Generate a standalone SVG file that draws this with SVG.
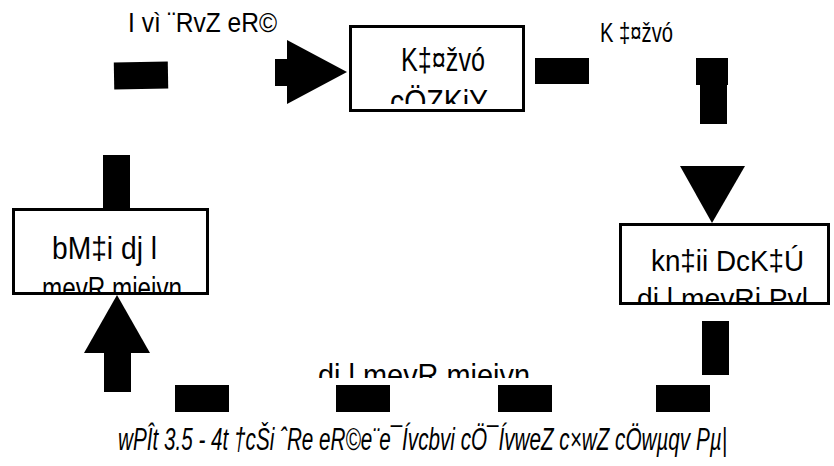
<svg xmlns="http://www.w3.org/2000/svg" width="834" height="466" viewBox="0 0 834 466">
<style>
.box{fill:#fff;stroke:#000;stroke-width:3}
.t{font-family:"Liberation Sans Narrow","Liberation Sans",sans-serif;fill:#000;text-anchor:start}
.cap{font-family:"Liberation Sans Narrow","Liberation Sans",sans-serif;font-style:italic;fill:#000}
.c{fill:#000;stroke:none}
</style>
<defs>
<clipPath id="clipTop"><rect x="352" y="28" width="170" height="76"/></clipPath>
<clipPath id="clipLeft"><rect x="15" y="211" width="191" height="81"/></clipPath>
<clipPath id="clipRight"><rect x="622" y="226" width="206" height="76"/></clipPath>
<clipPath id="clipBottom"><rect x="300" y="340" width="250" height="38"/></clipPath>
</defs>
<rect width="834" height="466" fill="#fff"/>
<g id="connectors">
<rect class="c" x="114" y="62" width="54" height="27" transform="rotate(-1 141 75)"/>
<rect class="c" x="275" y="59" width="14" height="27"/>
<polygon class="c" points="287,40 347,72 287,104"/>
<rect class="c" x="103" y="155" width="27" height="54"/>
<rect class="c" x="535" y="58" width="54" height="26"/>
<rect class="c" x="696" y="58" width="32" height="27"/>
<rect class="c" x="700" y="84" width="27" height="40"/>
<polygon class="c" points="680,166 745,166 712,223"/>
<rect class="c" x="702" y="321" width="27" height="54"/>
<rect class="c" x="656" y="385" width="54" height="27"/>
<rect class="c" x="498" y="385" width="54" height="27"/>
<rect class="c" x="336" y="385" width="54" height="27"/>
<rect class="c" x="175" y="385" width="54" height="27"/>
<rect class="c" x="104" y="352" width="27" height="40"/>
<polygon class="c" points="84,353 150,353 117,295"/>
</g>
<g id="label-food">
<text class="t" x="128" y="32" font-size="27" textLength="149" lengthAdjust="spacingAndGlyphs">I vì ¨RvZ eR©</text>
</g>
<g id="label-compost">
<text class="t" x="600" y="42" font-size="27" textLength="73" lengthAdjust="spacingAndGlyphs">K ‡¤žvó</text>
</g>
<g id="label-supply">
<g clip-path="url(#clipBottom)">
<text class="t" x="318" y="386" font-size="32" textLength="212" lengthAdjust="spacingAndGlyphs">di l mevR mieivn</text>
</g>
</g>
<g id="node-compost">
<rect class="box" x="350.5" y="26.5" width="173" height="84"/>
<g clip-path="url(#clipTop)">
<text class="t" x="401" y="71" font-size="33" textLength="84" lengthAdjust="spacingAndGlyphs">K‡¤žvó</text>
<text class="t" x="390" y="113" font-size="33" textLength="98" lengthAdjust="spacingAndGlyphs">cÖZKiY</text>
</g>
</g>
<g id="node-city">
<rect class="box" x="13.5" y="209.5" width="194" height="84"/>
<g clip-path="url(#clipLeft)">
<text class="t" x="52" y="259" font-size="31" textLength="105" lengthAdjust="spacingAndGlyphs">bM‡i dj l</text>
<text class="t" x="42" y="299" font-size="31" textLength="140" lengthAdjust="spacingAndGlyphs">mevR mieivn</text>
</g>
</g>
<g id="node-suburb">
<rect class="box" x="620.5" y="224.5" width="208" height="79"/>
<g clip-path="url(#clipRight)">
<text class="t" x="651" y="271" font-size="30" textLength="153" lengthAdjust="spacingAndGlyphs">kn‡ii DcK‡Ú</text>
<text class="t" x="637" y="309" font-size="30" textLength="171" lengthAdjust="spacingAndGlyphs">di l mevRi Pvl</text>
</g>
</g>
<g id="caption">
<text class="cap" x="118" y="450" font-size="31" textLength="609" lengthAdjust="spacingAndGlyphs">wPÎt 3.5 - 4t †cŠi ˆRe eR©e¨e¯Ívcbvi cÖ¯ÍvweZ c×wZ cÖwµqv Pµ|</text>
</g>
</svg>
